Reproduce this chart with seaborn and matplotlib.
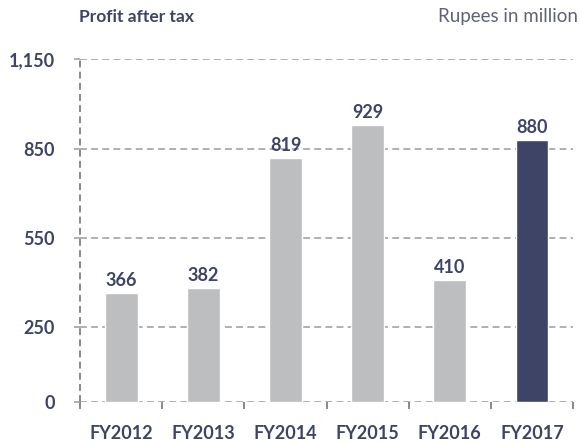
import matplotlib
matplotlib.use("Agg")
import matplotlib.pyplot as plt
from matplotlib.ticker import FuncFormatter
import pandas as pd
import seaborn as sns

# data
years = ["FY2012", "FY2013", "FY2014", "FY2015", "FY2016", "FY2017"]
profit = [366, 382, 819, 929, 410, 880]
yticks = [0, 250, 550, 850, 1150]

navy = "#3d4465"
grey_bar = "#bdbec0"
bar_colors = [grey_bar] * (len(years) - 1) + [navy]

sns.set_theme(style="white")
plt.rcParams["font.family"] = ["Lato", "DejaVu Sans"]

df = pd.DataFrame({"year": years, "profit": profit})

fig = plt.figure(figsize=(5.8, 4.43), dpi=100)
ax = fig.add_axes([0.138, 0.093, 0.850, 0.773])

sns.barplot(data=df, x="year", y="profit", hue="year", palette=bar_colors,
            width=0.4, legend=False, ax=ax, saturation=1)

for cont in ax.containers:
    ax.bar_label(cont, fmt="%d", padding=3, fontsize=13, fontweight="bold", color=navy)

ax.set_ylim(0, 1150)
ax.set_xlim(-0.5, len(years) - 0.5)
ax.set_yticks(yticks)
ax.yaxis.set_major_formatter(FuncFormatter(lambda v, p: f"{int(v):,}"))
ax.set_xlabel("")
ax.set_ylabel("")

dash = (0, (4.5, 2.8))
ax.yaxis.grid(True, color="#9a9a9a", linestyle=dash, linewidth=1.1)
ax.set_axisbelow(True)
for s in ["top", "right", "left", "bottom"]:
    ax.spines[s].set_visible(False)
# dashed left axis line
ax.axvline(-0.5, color="#6a6a6a", linestyle=dash, linewidth=1.1,
           clip_on=False, zorder=0.5)

# boundaries between categories get the small ticks
ax.set_xticks([i - 0.5 for i in range(len(years) + 1)], minor=True)
ax.tick_params(axis="x", which="major", length=0, pad=17, labelsize=13,
               labelcolor=navy)
ax.tick_params(axis="x", which="minor", length=5, width=1.1, color="#6a6a6a",
               direction="out", bottom=True)
ax.tick_params(axis="y", length=4, width=1.1, color="#9a9a9a", left=True,
               pad=14, labelsize=13, labelcolor=navy)
for lab in ax.get_xticklabels() + ax.get_yticklabels():
    lab.set_fontweight("bold")

fig.text(0.137, 0.962, "Profit after tax", fontsize=12.5, fontweight="bold",
         color=navy, ha="left", va="center")
fig.text(0.997, 0.962, "Rupees in million", fontsize=13.5, color="#5f6375",
         ha="right", va="center")

fig.savefig("out.png", dpi=100)
